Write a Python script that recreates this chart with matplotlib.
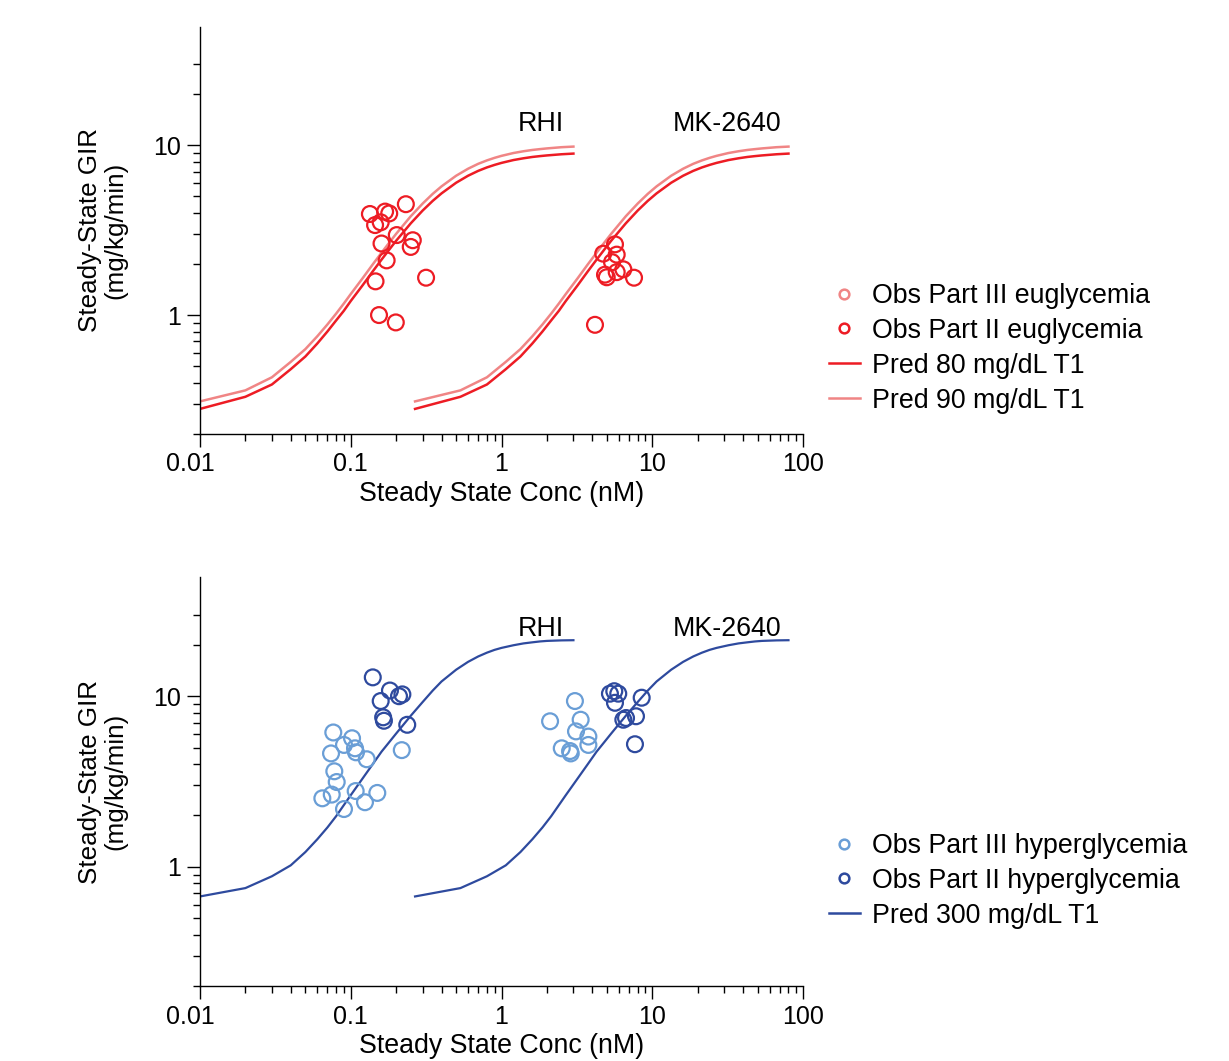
import matplotlib
matplotlib.use("Agg")
import matplotlib.pyplot as plt
import matplotlib.transforms as mtransforms
from matplotlib.lines import Line2D
from matplotlib.ticker import FixedLocator, NullFormatter

plt.rcParams["font.family"] = ["Liberation Sans", "DejaVu Sans"]

# prediction grid (nM) and predicted GIR (mg/kg/min)
rhi_conc = [0.01, 0.02, 0.03, 0.04, 0.05, 0.06, 0.07, 0.08, 0.09, 0.1, 0.12, 0.14, 0.16, 0.18,
            0.2, 0.25, 0.3, 0.35, 0.4, 0.5, 0.6, 0.7, 0.8, 0.9, 1, 1.2, 1.4, 1.6, 1.8, 2, 2.5, 3]
mk_conc = [0.267, 0.534, 0.801, 1.068, 1.335, 1.602, 1.869, 2.136, 2.403, 2.67, 3.204, 3.738,
           4.272, 4.806, 5.34, 6.675, 8.01, 9.345, 10.68, 13.35, 16.02, 18.69, 21.36, 24.03,
           26.7, 32.04, 37.38, 42.72, 48.06, 53.4, 66.75, 80.1]
pred_80 = [0.28, 0.33, 0.39, 0.48, 0.57, 0.68, 0.80, 0.93, 1.06, 1.21, 1.50, 1.81, 2.12, 2.43,
           2.74, 3.47, 4.13, 4.71, 5.21, 6.02, 6.62, 7.07, 7.41, 7.67, 7.88, 8.19, 8.39, 8.54,
           8.64, 8.72, 8.86, 8.94]
pred_90 = [0.31, 0.36, 0.43, 0.53, 0.63, 0.75, 0.88, 1.02, 1.17, 1.33, 1.65, 1.99, 2.33, 2.67,
           3.01, 3.82, 4.54, 5.18, 5.73, 6.62, 7.28, 7.78, 8.15, 8.44, 8.67, 9.01, 9.23, 9.39,
           9.50, 9.59, 9.75, 9.83]
pred_300 = [0.67, 0.75, 0.88, 1.02, 1.22, 1.45, 1.70, 1.98, 2.30, 2.63, 3.30, 4.00, 4.73, 5.38,
            6.04, 7.68, 9.25, 10.8, 12.2, 14.3, 15.9, 17.1, 18.0, 18.7, 19.2, 19.9, 20.4, 20.7,
            20.95, 21.1, 21.25, 21.3]

# observed, euglycemia (Part II)
eu_rhi_x = [0.134, 0.145, 0.158, 0.169, 0.180, 0.232, 0.202, 0.160, 0.258, 0.250, 0.173, 0.146, 0.316, 0.154, 0.199]
eu_rhi_y = [3.94, 3.39, 3.52, 4.07, 3.97, 4.50, 2.96, 2.64, 2.76, 2.52, 2.10, 1.58, 1.66, 1.00, 0.905]
eu_mk_x = [5.66, 4.73, 5.81, 5.41, 6.43, 4.86, 4.99, 5.81, 7.57, 4.17]
eu_mk_y = [2.61, 2.30, 2.27, 2.05, 1.86, 1.73, 1.67, 1.79, 1.66, 0.876]

# observed, hyperglycemia
hy3_rhi_x = [0.0766, 0.102, 0.0902, 0.0740, 0.1067, 0.1083, 0.1276, 0.218, 0.0778, 0.0807,
             0.1078, 0.0648, 0.0748, 0.150, 0.1243, 0.0902]
hy3_rhi_y = [6.13, 5.67, 5.18, 4.62, 4.95, 4.69, 4.27, 4.83, 3.63, 3.14,
             2.78, 2.52, 2.65, 2.71, 2.39, 2.18]
hy2_rhi_x = [0.140, 0.182, 0.209, 0.220, 0.158, 0.164, 0.166, 0.237]
hy2_rhi_y = [12.9, 10.8, 10.0, 10.25, 9.37, 7.52, 7.18, 6.80]
hy3_mk_x = [3.07, 2.10, 3.35, 3.12, 3.77, 3.77, 2.51, 2.85, 2.88]
hy3_mk_y = [9.37, 7.13, 7.28, 6.22, 5.80, 5.18, 4.95, 4.77, 4.62]
hy2_mk_x = [5.60, 5.24, 5.95, 5.66, 8.51, 6.70, 7.80, 6.43, 7.68]
hy2_mk_y = [10.7, 10.35, 10.35, 9.15, 9.80, 7.45, 7.63, 7.28, 5.23]

x_ticks = [0.01, 0.1, 1, 10, 100]
x_ticklabels = ["0.01", "0.1", "1", "10", "100"]
y_ticks = [1, 10]
y_ticklabels = ["1", "10"]

RED = "#ED1C24"
PINK = "#F08585"
DARK_BLUE = "#2E4A9E"
LIGHT_BLUE = "#6A9ED6"
FS_TICK = 18
FS = 19.3

W, H = 1229, 1061
fig = plt.figure(figsize=(W / 100, H / 100), dpi=100)
ax1 = fig.add_axes([200 / W, 1 - 433.7 / H, 603 / W, 407 / H])
ax2 = fig.add_axes([200 / W, 1 - 986 / H, 603 / W, 409 / H])


def style_axis(ax):
    ax.set_xscale("log")
    ax.set_yscale("log")
    ax.set_xlim(0.01, 100)
    ax.set_ylim(0.2, 50)
    for s in ["top", "right"]:
        ax.spines[s].set_visible(False)
    for s in ["left", "bottom"]:
        ax.spines[s].set_linewidth(1.0)
    ax.xaxis.set_major_locator(FixedLocator(x_ticks))
    ax.set_xticklabels(x_ticklabels)
    minor_x = [m * d for d in [0.01, 0.1, 1, 10] for m in range(2, 10)]
    ax.xaxis.set_minor_locator(FixedLocator(minor_x))
    ax.yaxis.set_major_locator(FixedLocator(y_ticks))
    ax.set_yticklabels(y_ticklabels)
    minor_y = [0.2, 0.3, 0.4, 0.5, 0.6, 0.7, 0.8, 0.9, 2, 3, 4, 5, 6, 7, 8, 9, 20, 30]
    ax.yaxis.set_minor_locator(FixedLocator(minor_y))
    ax.xaxis.set_minor_formatter(NullFormatter())
    ax.yaxis.set_minor_formatter(NullFormatter())
    ax.tick_params(which="major", length=9.5, width=1.0, labelsize=FS_TICK, pad=4)
    ax.tick_params(which="minor", length=5, width=1.0)
    ax.set_xlabel("Steady State Conc (nM)", fontsize=FS, labelpad=3)
    ax.set_ylabel("Steady-State GIR\n(mg/kg/min)", fontsize=18.7, labelpad=19,
                  linespacing=1.05)
    # first x label sits a little left of its tick in the original
    shift = mtransforms.ScaledTranslation(-7 / 72, 0, fig.dpi_scale_trans)
    first = ax.get_xticklabels()[0]
    first.set_transform(first.get_transform() + shift)


def legend_at(handles, labels, top_px):
    fig.legend(handles, labels, loc="upper left", bbox_to_anchor=(829 / W, 1 - top_px / H),
               frameon=False, fontsize=FS, handlelength=1.15, handletextpad=0.45,
               labelspacing=0.33, borderpad=0, borderaxespad=0)


# top panel: euglycemia
style_axis(ax1)
ax1.plot(rhi_conc, pred_90, color=PINK, lw=1.8)
ax1.plot(rhi_conc, pred_80, color=RED, lw=1.8)
ax1.plot(mk_conc, pred_90, color=PINK, lw=1.8)
ax1.plot(mk_conc, pred_80, color=RED, lw=1.8)
ax1.scatter(eu_rhi_x, eu_rhi_y, s=130, facecolors="none", edgecolors=RED, linewidths=1.6, zorder=3)
ax1.scatter(eu_mk_x, eu_mk_y, s=130, facecolors="none", edgecolors=RED, linewidths=1.6, zorder=3)
ax1.text(1.83, 13.4, "RHI", fontsize=FS, ha="center", va="center")
ax1.text(31.3, 13.4, "MK-2640", fontsize=FS, ha="center", va="center")

h_top = [
    Line2D([], [], ls="none", marker="o", ms=7, mfc="none", mec=PINK, mew=1.8),
    Line2D([], [], ls="none", marker="o", ms=7, mfc="none", mec=RED, mew=1.8),
    Line2D([], [], color=RED, lw=1.8),
    Line2D([], [], color=PINK, lw=1.8),
]
l_top = ["Obs Part III euglycemia", "Obs Part II euglycemia", "Pred 80 mg/dL T1", "Pred 90 mg/dL T1"]
legend_at(h_top, l_top, 283)

# bottom panel: hyperglycemia
style_axis(ax2)
ax2.plot(rhi_conc, pred_300, color=DARK_BLUE, lw=1.6)
ax2.plot(mk_conc, pred_300, color=DARK_BLUE, lw=1.6)
ax2.scatter(hy3_rhi_x, hy3_rhi_y, s=130, facecolors="none", edgecolors=LIGHT_BLUE, linewidths=1.6, zorder=3)
ax2.scatter(hy3_mk_x, hy3_mk_y, s=130, facecolors="none", edgecolors=LIGHT_BLUE, linewidths=1.6, zorder=3)
ax2.scatter(hy2_rhi_x, hy2_rhi_y, s=130, facecolors="none", edgecolors=DARK_BLUE, linewidths=1.6, zorder=3)
ax2.scatter(hy2_mk_x, hy2_mk_y, s=130, facecolors="none", edgecolors=DARK_BLUE, linewidths=1.6, zorder=3)
ax2.text(1.83, 24.7, "RHI", fontsize=FS, ha="center", va="center")
ax2.text(31.3, 24.7, "MK-2640", fontsize=FS, ha="center", va="center")

h_bot = [
    Line2D([], [], ls="none", marker="o", ms=7, mfc="none", mec=LIGHT_BLUE, mew=1.8),
    Line2D([], [], ls="none", marker="o", ms=7, mfc="none", mec=DARK_BLUE, mew=1.8),
    Line2D([], [], color=DARK_BLUE, lw=1.8),
]
l_bot = ["Obs Part III hyperglycemia", "Obs Part II hyperglycemia", "Pred 300 mg/dL T1"]
legend_at(h_bot, l_bot, 833)

fig.savefig("out.png", dpi=100)
